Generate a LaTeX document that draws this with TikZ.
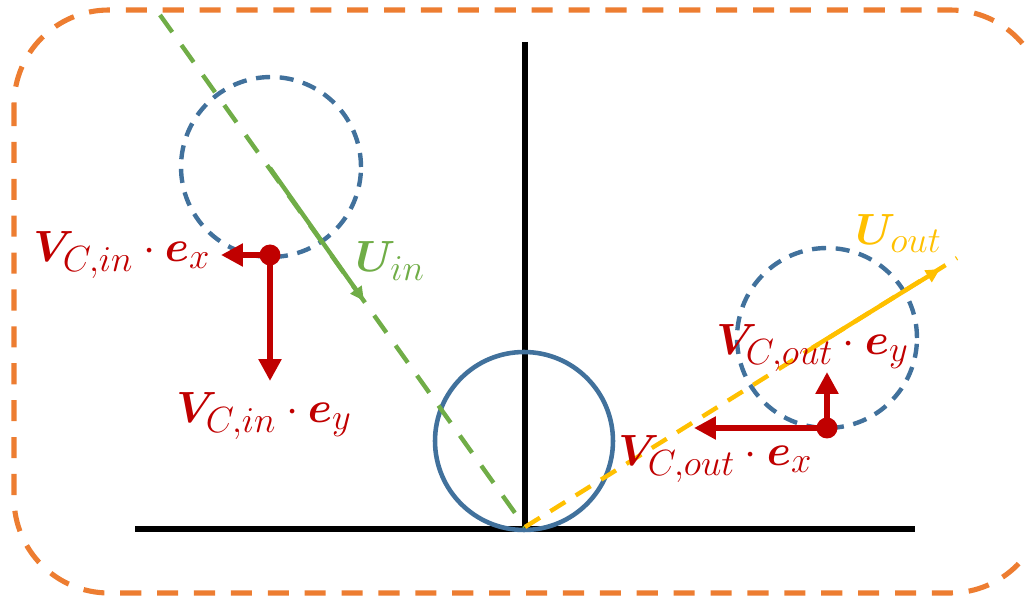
\documentclass[tikz,border=0pt]{standalone}
\usepackage{bm}
\usetikzlibrary{arrows.meta}
\DeclareMathSizes{27}{27}{21}{15}
\definecolor{cOrange}{HTML}{ED7D31}
\definecolor{cGreen}{HTML}{70AD47}
\definecolor{cBlue}{HTML}{41719C}
\definecolor{cYellow}{HTML}{FFC000}
\definecolor{cRed}{HTML}{C00000}
\tikzset{
  frame/.style={draw=cOrange, line width=2.9pt, dash pattern=on 12pt off 9pt, rounded corners=1.9cm},
  ground/.style={draw=black, line width=3pt},
  wheel/.style={circle, draw=cBlue, line width=2.6pt, minimum size=3.56cm, inner sep=0pt},
  ghost/.style={circle, draw=cBlue, line width=2.5pt, minimum size=3.6cm, inner sep=0pt, dash pattern=on 8pt off 5.5pt},
  inpath/.style={draw=cGreen, line width=2.5pt, dash pattern=on 12pt off 9pt},
  outpath/.style={draw=cYellow, line width=2.5pt, dash pattern=on 10pt off 7pt},
  inarrow/.style={draw=cGreen, line width=2.5pt, -{Triangle[length=8pt,width=7.5pt]}},
  outarrow/.style={draw=cYellow, line width=2.5pt, -{Triangle[length=8pt,width=7.5pt]}},
  velarrow/.style={draw=cRed, line width=3.2pt, -{Triangle[length=12.5pt,width=12.5pt]}},
  dot/.style={circle, fill=cRed, minimum size=0.42cm, inner sep=0pt},
  lbl/.style={text=cRed, font=\fontsize{27}{32}\selectfont, inner sep=0pt, anchor=base west},
}
\begin{document}
\begin{tikzpicture}[x=0.02cm, y=-0.02cm]
\useasboundingbox (0,0) rectangle (1025,597);
\begin{scope}
  \clip (0,0) rectangle (1025,597);
  \path[frame] (14,10) rectangle (1045,593);
\end{scope}
% ground lines
\coordinate (vt) at (525,42);
\coordinate (vb) at (525,529);
\coordinate (hl) at (135,529);
\coordinate (hr) at (915,529);
\draw[ground] (vt) -- (vb);
\draw[ground] (hl) -- (hr);
% circles
\node[wheel] (w) at (524,441) {};
\node[ghost] (gin) at (271,167) {};
\node[ghost] (gout) at (827,338) {};
% paths
\coordinate (contact) at (525,527);
\coordinate (instart) at (160,15);
\coordinate (outend) at (957,258);
\draw[inpath] (instart) -- (contact);
\draw[outpath] (contact) -- (outend);
\coordinate (ina) at (270,168);
\coordinate (inb) at (364,301);
\draw[inarrow] (ina) -- (inb);
\coordinate (outa) at (812,348);
\coordinate (outb) at (940,269);
\draw[outarrow] (outa) -- (outb);
% velocity components
\coordinate (pin) at (270,255);
\coordinate (pinx) at (221,255);
\coordinate (piny) at (270,381);
\draw[velarrow] (pin) -- (pinx);
\draw[velarrow] (pin) -- (piny);
\node[dot] (din) at (pin) {};
\coordinate (pout) at (827,428);
\coordinate (poutx) at (694,428);
\coordinate (pouty) at (827,372);
\draw[velarrow] (pout) -- (poutx);
\draw[velarrow] (pout) -- (pouty);
\node[dot] (dout) at (pout) {};
% labels
\node[lbl] (l1) at (33,262) {$\bm{V}_{C,in}\cdot\bm{e}_x$};
\node[lbl] (l2) at (176,423) {$\bm{V}_{C,in}\cdot\bm{e}_y$};
\node[lbl, text=cGreen] (l3) at (355,272) {$\bm{U}_{in}$};
\node[lbl, text=cYellow] (l4) at (855,245) {$\bm{U}_{out}$};
\node[lbl] (l5) at (716,355) {$\bm{V}_{C,out}\cdot\bm{e}_y$};
\node[lbl] (l6) at (618,466) {$\bm{V}_{C,out}\cdot\bm{e}_x$};
\end{tikzpicture}
\end{document}
